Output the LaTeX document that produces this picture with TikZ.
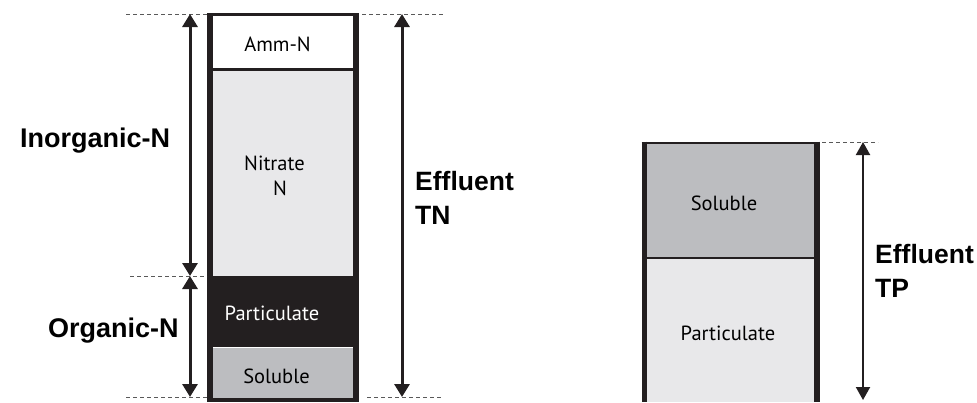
\documentclass[tikz,border=0pt]{standalone}
\usepackage{fontspec}
\setmainfont{Liberation Sans}
\newfontfamily\partfont{PT Sans}
\usetikzlibrary{arrows.meta}
\definecolor{ink}{HTML}{231F20}
\definecolor{paleN}{HTML}{E8E8EA}
\definecolor{midgray}{HTML}{BCBDC0}
\tikzset{
 part/.style={font=\partfont\fontsize{20.5}{25}\selectfont, inner sep=0pt, anchor=base, align=center},
 tag/.style={font=\bfseries\fontsize{27}{34}\selectfont, inner sep=0pt, anchor=base west, align=left},
 guide/.style={black!65, line width=0.9pt, dash pattern=on 4pt off 3pt},
 span/.style={ink, line width=3pt, <->, >={Triangle[width=15pt,length=13pt]}},
 wall/.style={ink, line width=6pt},
}

\begin{document}
\begin{tikzpicture}[x=1pt, y=-1pt]
\useasboundingbox (0,0) rectangle (977,402);
% TN column
\fill[white] (210,14.5) rectangle (356,69.5);
\fill[paleN] (210,69.5) rectangle (356,276);
\fill[ink] (210,276) rectangle (356,347);
\fill[midgray] (210,347) rectangle (356,398);
\draw[white, line width=1pt] (213,347) -- (353,347);
\draw[ink, line width=2.5pt] (207,14.5) -- (359,14.5) (210,69.5) -- (356,69.5);
\draw[ink, line width=4pt] (207,400) -- (359,400);
\draw[wall] (210,13.3) -- (210,402) (356,13.3) -- (356,402);
\node[part] (amm) at (277.5,51.5) {Amm-N};
\node[part] (nitrate) at (274.5,195) {Nitrate\\\hspace*{11pt}N};
\node[part, text=white] (partN) at (272,320) {Particulate};
\node[part] (solN) at (276.5,383) {Soluble};
% TP column
\fill[midgray] (644.5,143) rectangle (817,258);
\fill[paleN] (644.5,258) rectangle (817,402);
\draw[ink, line width=2.5pt] (641.7,143) -- (820,143) (644.5,258) -- (817,258);
\draw[wall, line width=5.6pt] (644.5,141.7) -- (644.5,402) (817,141.7) -- (817,402);
\node[part] (solP) at (724,210) {Soluble};
\node[part] (partP) at (728,340) {Particulate};
% guides and spans
\draw[guide] (126,14) -- (207,14) (362,14) -- (443,14) (130,276) -- (207,276)
 (126,397) -- (207,397) (367,397) -- (443,397) (822,142) -- (878,142);
\coordinate (nTop) at (190,14);
\coordinate (nMid) at (190,276);
\coordinate (nBot) at (190,397);
\coordinate (tnTop) at (402,14);
\coordinate (tnBot) at (402,397);
\coordinate (tpTop) at (863,142);
\coordinate (tpBot) at (863,400);
\draw[span] (nTop) -- (nMid);
\draw[span] (nMid) -- (nBot);
\draw[span] (tnTop) -- (tnBot);
\draw[span, line width=2pt, >={Triangle[width=14pt,length=13pt]}] (tpTop) -- (tpBot);
\node[tag] (inorg) at (20,147) {Inorganic-N};
\node[tag] (org) at (48,337) {Organic-N};
\node[tag, font=\bfseries\fontsize{26.5}{34}\selectfont] (tn) at (415,224) {Effluent\\TN};
\node[tag, font=\bfseries\fontsize{26.5}{34}\selectfont] (tp) at (875,297) {Effluent\\TP};
\end{tikzpicture}
\end{document}
